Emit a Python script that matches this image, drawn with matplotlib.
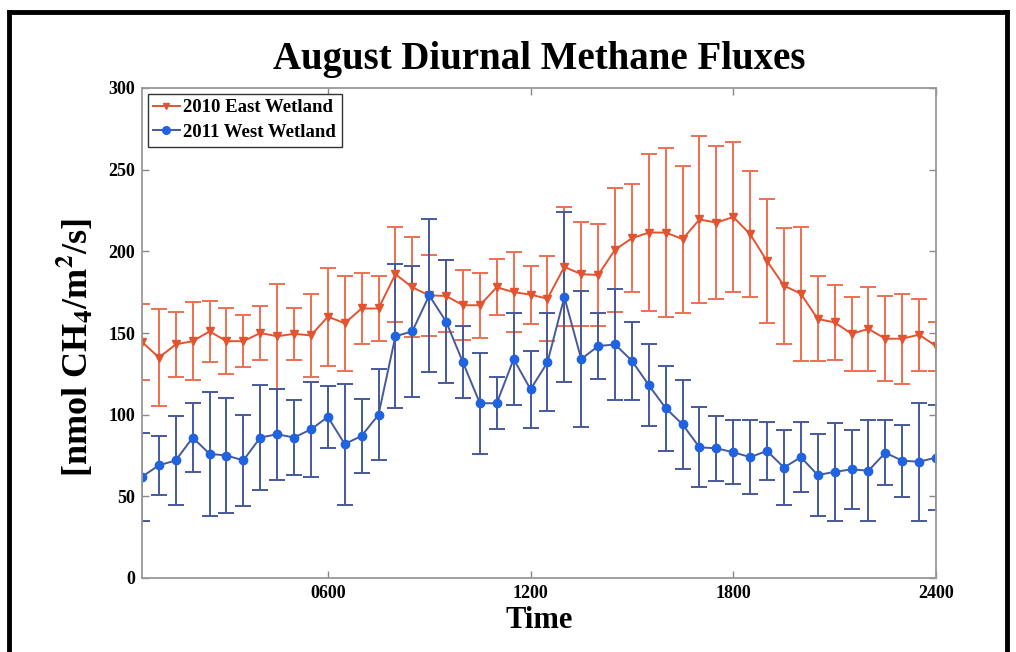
import numpy as np
import matplotlib
matplotlib.use("Agg")
import matplotlib.pyplot as plt
from matplotlib.lines import Line2D

plt.rcParams['font.family'] = ['Liberation Serif', 'DejaVu Serif']
plt.rcParams['font.weight'] = 'bold'
plt.rcParams['mathtext.fontset'] = 'stix'

# half hour steps, in hours (0.5 .. 24)
hours = [0.5, 1.0, 1.5, 2.0, 2.5, 3.0, 3.5, 4.0, 4.5, 5.0, 5.5, 6.0,
         6.5, 7.0, 7.5, 8.0, 8.5, 9.0, 9.5, 10.0, 10.5, 11.0, 11.5, 12.0,
         12.5, 13.0, 13.5, 14.0, 14.5, 15.0, 15.5, 16.0, 16.5, 17.0, 17.5, 18.0,
         18.5, 19.0, 19.5, 20.0, 20.5, 21.0, 21.5, 22.0, 22.5, 23.0, 23.5, 24.0]

# 2010 east wetland (mean flux and error)
east_mean = [144.5, 135, 143, 145, 151, 145, 145, 150, 148, 149.5, 148.5, 160,
             156, 165, 165, 186, 178, 173, 172.7, 167, 167, 178, 175, 173.5,
             171, 190.5, 186, 185.5, 201, 208, 211.5, 211.5, 207.5, 219.5, 217.6, 221,
             210.5, 194, 179, 174, 158.6, 156.5, 149.5, 152.5, 146.5, 146.5, 149, 142]
east_err = [23, 29.5, 20, 24, 18.5, 20, 16, 16.5, 32, 16, 25.5, 30,
            29, 21.5, 20, 29, 30.5, 25, 22, 21.5, 20, 17, 24.5, 17.7,
            26, 36.5, 32, 31, 38, 33, 48, 52, 45, 51, 47, 46,
            38.5, 38, 35.5, 41, 26, 23, 22.5, 25.7, 26, 27.6, 22, 15]

# 2011 west wetland
west_mean = [62, 69, 72, 86, 76, 75, 72, 86, 88, 86, 91, 98.6,
             82, 87, 100, 148, 151, 173, 157, 132, 107, 107, 134, 115.5,
             132, 172, 134, 142, 143, 133, 118, 104, 94, 80, 79.4, 77,
             74, 77.8, 67.6, 74, 63, 65, 66.5, 65.7, 76.7, 71.8, 71.2, 73.7]
west_err = [27, 18, 27, 21, 38, 35, 28, 32, 28, 23, 29, 19,
            37, 22.5, 28, 44, 40, 47, 37.5, 22, 31, 16, 28, 23.6,
            30, 52, 41.5, 20, 34, 24, 25, 26, 27, 24.5, 20, 19.5,
            22.5, 18, 23, 21.6, 25, 30, 24, 31, 20, 22, 36, 32]

xtick_pos = [6, 12, 18, 24]
xtick_labels = ['0600', '1200', '1800', '2400']
ytick_pos = [0, 50, 100, 150, 200, 250, 300]

fig = plt.figure(figsize=(10.16, 6.52), dpi=100)
ax = fig.add_axes([142/1016, 74/652, 794/1016, 490/652])

red_line = '#e4532f'
red_err = '#ee6f52'
blue_face = '#1f63e0'
blue_line = '#46599a'

ax.errorbar(hours, east_mean, yerr=east_err, color=red_line, ecolor=red_err,
            elinewidth=1.4, capsize=6, capthick=1.4, lw=1.4,
            marker='v', ms=5.5, mfc=red_line, mec=red_line, label='2010 East Wetland')
ax.errorbar(hours, west_mean, yerr=west_err, color=blue_line, ecolor=blue_line,
            elinewidth=1.4, capsize=6, capthick=1.4, lw=1.4,
            marker='o', ms=6, mfc=blue_face, mec=blue_face, label='2011 West Wetland')

ax.set_xlim(0.5, 24)
ax.set_ylim(0, 300)
ax.set_xticks(xtick_pos)
ax.set_xticklabels(xtick_labels)
ax.set_yticks(ytick_pos)
ax.tick_params(direction='in', length=5, width=1, color='#888888',
               top=True, right=True, labelsize=13, pad=5)
for s in ax.spines.values():
    s.set_color('#999999')
    s.set_linewidth(1.3)

ax.set_title('August Diurnal Methane Fluxes', fontsize=28, fontweight='bold', pad=14)
ax.set_xlabel('Time', fontsize=22, fontweight='bold', labelpad=3)
ax.set_ylabel(r'[nmol CH$_\mathbf{4}$/m$^\mathbf{2}$/s]', fontsize=26, fontweight='bold')
ax.yaxis.set_label_coords(-0.058, 0.47)  # label sits a bit low in the original

handles = [Line2D([], [], color=red_line, marker='v', ms=5, lw=1.4),
           Line2D([], [], color=blue_line, marker='o', ms=5.5, mfc=blue_face, mec=blue_face, lw=1.4)]
leg = ax.legend(handles, ['2010 East Wetland', '2011 West Wetland'], loc='upper left',
                fontsize=13.5, handlelength=1.4, handletextpad=0.2, labelspacing=0.4,
                borderaxespad=0.3, borderpad=0.3, fancybox=False, framealpha=1)
leg.get_frame().set_edgecolor('#333333')
leg.get_frame().set_linewidth(1.0)

# black frame round the whole picture (bottom is cut off in the original)
lw = 3.5
fig.add_artist(Line2D([9/1016, 9/1016], [0, 1 - 12/652], color='black', lw=lw, transform=fig.transFigure))
fig.add_artist(Line2D([9/1016, 1007/1016], [1 - 12/652, 1 - 12/652], color='black', lw=lw, transform=fig.transFigure))
fig.add_artist(Line2D([1007/1016, 1007/1016], [0, 1 - 12/652], color='black', lw=lw, transform=fig.transFigure))

fig.savefig('out.png', dpi=100)
